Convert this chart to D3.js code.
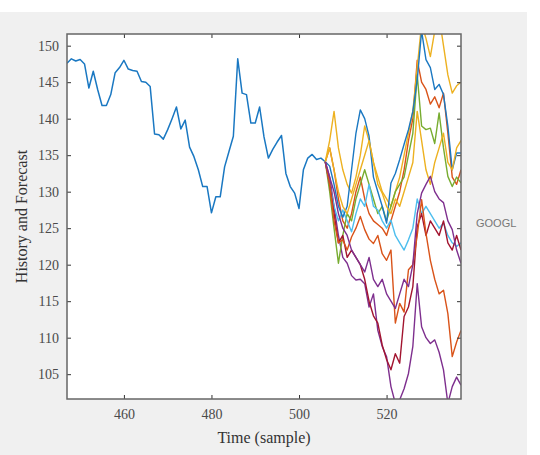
<!DOCTYPE html>
<html>
<head>
<meta charset="utf-8">
<script src="https://cdn.jsdelivr.net/npm/d3@7"></script>
<style>
html,body{margin:0;padding:0;background:#fff;}
svg{display:block;}
</style>
</head>
<body>
<svg id="chart" width="540" height="455"></svg>
<script>
// ---- data ----
const historyStart = 447;
const historyValues = [147.6,148.2,147.9,148.1,147.5,144.2,146.5,144.0,141.8,141.8,
  143.3,146.3,147.0,148.0,146.8,146.6,146.5,145.1,145.0,144.4,
  137.9,137.8,137.2,138.5,140.0,141.6,138.6,139.8,136.1,134.8,
  133.0,130.7,130.7,127.1,129.3,129.3,133.4,135.5,137.6,148.2,
  143.5,143.3,139.4,139.4,141.6,137.5,134.6,135.8,136.8,137.7,
  132.5,130.7,129.8,127.7,133.0,134.6,135.1,134.4,134.6,134.1];
const forecastStart = 506;
const forecastOrange1 = [134.1,136,133,129,126,125,127,130,132,129,127,126,125.5,125,124,126,128,130,133,137,140,148,145,144,142,143,141.5,143.5,138,132,131,133];
const forecastYellow1 = [134.1,137,141,136,133,131,129.8,132,135,139,137,134,132,130,129,128,130,132,135,138,141,147,153,151,148.5,152,154,150,146,143.5,144.5,145];
const forecastPurple1 = [134.1,132,128,124,121,120.2,118.5,117.9,118,117.4,114.2,116,111,108.8,107.4,103.3,101,101.5,103,105.1,108.8,117.4,111.5,110,109.2,109.7,108,105.6,101,103.3,104.6,103.5];
const forecastGreen1 = [134.1,130,125,120.2,124,127,126,129,131,133,131,129,127,128,126,128,130,131,132,135,138,146,139,138.5,138.7,136.6,140.8,136,132.1,130.7,132,131.2];
const forecastLightBlue1 = [134.1,131,128,126,127.5,126,124.5,127,129,128,131,128,127.5,126,125,126.1,124,123,122,123.4,125,129,127,128,127,126,125,125.7,124,123,122.5,123];
const forecastDarkRed1 = [134.1,131,127,123,124,121,122,121,120,118,115,113,112,109,107,105.6,107.8,106.5,112.9,114.2,117,125.2,127,124,126,125,124,126,123,122,124,122];
const forecastBlue1 = [134.1,133.5,131,128,126.5,128,133,138,141.2,140,137.6,132,130,128,125.7,131.2,132.5,134.4,136.5,138.5,141,145.3,152,148.1,147,144,144.7,143.3,139,133,135.3,135.3];
const forecastOrange2 = [134.1,131,126,123,123.4,122,123.8,125,126.6,124.8,123.5,122.9,124,121.5,120.6,122,112,114.7,113.5,119.3,120,124,128.9,124.3,120.6,118,116,116.5,113.3,107.4,109.4,111];
const forecastYellow2 = [134.1,136,133,130,128,127,129,131,133,135,137,134,131,129.8,128,127,129,128,130,132,134,141,137,133,131,134,136,138,134,133,136,137];
const forecastPurple2 = [134.1,132,130,127,125,124,122,121,120,119,121,118,117,118,116,115,114,116,118,117,120,127,129.8,131,132.1,130,129,128.5,126,124.8,122,120.2];
const forecasts = [forecastOrange1, forecastYellow1, forecastPurple1, forecastGreen1, forecastLightBlue1,
  forecastDarkRed1, forecastBlue1, forecastOrange2, forecastYellow2, forecastPurple2];
const lineColors = ["#1a78c2","#D95319","#EDB120","#7E2F8E","#77AC30","#4DBEEE","#A2142F"];
const xTicks = [460,480,500,520];
const yTicks = [105,110,115,120,125,130,135,140,145,150];
const xDomain = [447,537];
const yDomain = [101.6,151.6];
const seriesName = "GOOGL";

// ---- layout ----
const svg = d3.select("#chart");
const L = 67, R = 461, T = 34, B = 399;
svg.append("rect").attr("x",0).attr("y",12).attr("width",527).attr("height",443).attr("fill","#f0f0f0");
svg.append("rect").attr("x",L).attr("y",T).attr("width",R-L).attr("height",B-T).attr("fill","#ffffff");

const x = d3.scaleLinear().domain(xDomain).range([L,R]);
const y = d3.scaleLinear().domain(yDomain).range([B,T]);

svg.append("defs").append("clipPath").attr("id","clip")
  .append("rect").attr("x",L).attr("y",T).attr("width",R-L).attr("height",B-T);

const g = svg.append("g").attr("clip-path","url(#clip)");
const line = d3.line().x(d=>x(d[0])).y(d=>y(d[1]));

const histPts = historyValues.map((v,i)=>[historyStart+i, v]);
g.append("path").attr("d",line(histPts)).attr("fill","none")
  .attr("stroke",lineColors[0]).attr("stroke-width",1.5).attr("stroke-linejoin","round");
forecasts.forEach((arr,k)=>{
  const pts = arr.map((v,i)=>[forecastStart+i, v]);
  g.append("path").attr("d",line(pts)).attr("fill","none")
    .attr("stroke", lineColors[(k+1)%lineColors.length]).attr("stroke-width",1.4)
    .attr("stroke-linejoin","round");
});

// axes
const axisColor = "#666";
const textColor = "#4a4a4a";
const serif = "'Liberation Serif','Times New Roman',serif";
const xAxis = svg.append("g").attr("transform",`translate(0,${B})`)
  .call(d3.axisBottom(x).tickValues(xTicks).tickSizeInner(-4).tickSizeOuter(0).tickPadding(10));
const xTop = svg.append("g").attr("transform",`translate(0,${T})`)
  .call(d3.axisTop(x).tickValues(xTicks).tickSizeInner(-4).tickSizeOuter(0).tickFormat(""));
const yAxis = svg.append("g").attr("transform",`translate(${L},0)`)
  .call(d3.axisLeft(y).tickValues(yTicks).tickSizeInner(-4).tickSizeOuter(0).tickPadding(8));
const yRight = svg.append("g").attr("transform",`translate(${R},0)`)
  .call(d3.axisRight(y).tickValues(yTicks).tickSizeInner(-4).tickSizeOuter(0).tickFormat(""));
[xAxis,xTop,yAxis,yRight].forEach(a=>{
  a.select(".domain").remove();
  a.selectAll(".tick line").attr("stroke","#333").attr("stroke-width",1);
  a.selectAll(".tick text").attr("fill",textColor).style("font-family",serif).style("font-size","14px");
});
svg.append("rect").attr("x",L).attr("y",T).attr("width",R-L).attr("height",B-T)
  .attr("fill","none").attr("stroke",axisColor).attr("stroke-width",1.5);

svg.append("text").attr("x",(L+R)/2).attr("y",443).attr("text-anchor","middle")
  .attr("fill","#333").style("font-family",serif).style("font-size","16px").text("Time (sample)");
svg.append("text").attr("transform",`translate(27,${(T+B)/2}) rotate(-90)`).attr("text-anchor","middle")
  .attr("fill","#333").style("font-family",serif).style("font-size","16px").text("History and Forecast");
svg.append("text").attr("x",476).attr("y",227).attr("fill","#777")
  .style("font-family","'Liberation Sans',Arial,sans-serif").style("font-size","11px").text(seriesName);
</script>
</body>
</html>
